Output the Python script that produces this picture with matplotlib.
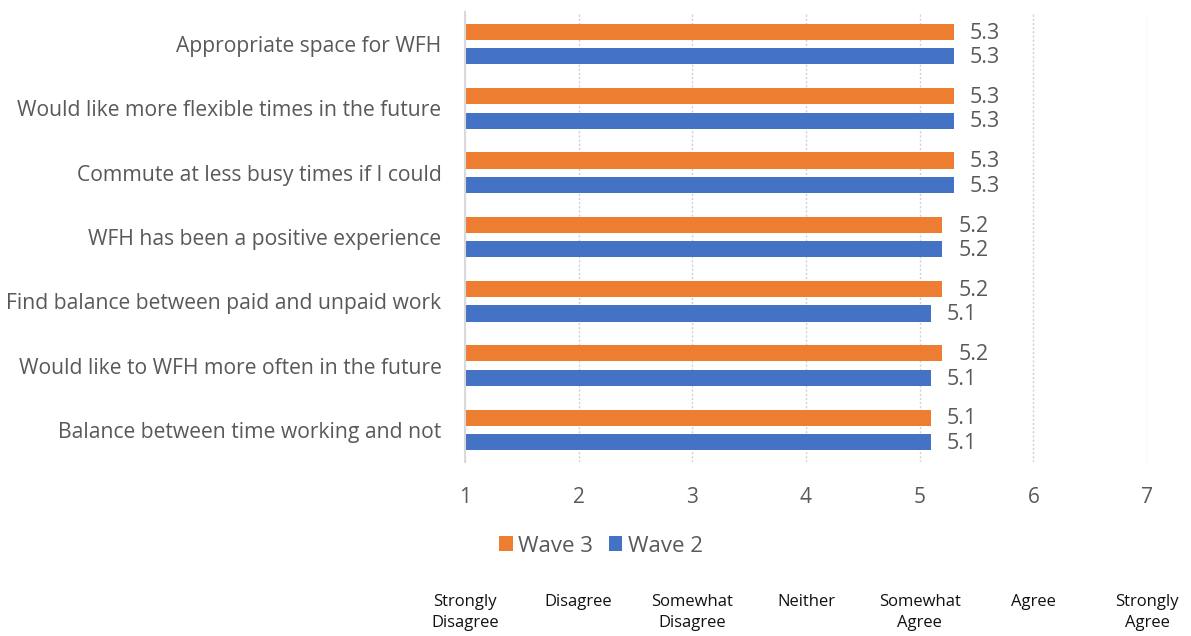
import numpy as np
import matplotlib.pyplot as plt

# data, top to bottom
statements = ["Appropriate space for WFH",
              "Would like more flexible times in the future",
              "Commute at less busy times if I could",
              "WFH has been a positive experience",
              "Find balance between paid and unpaid work",
              "Would like to WFH more often in the future",
              "Balance between time working and not"]
wave3 = [5.3, 5.3, 5.3, 5.2, 5.2, 5.2, 5.1]
wave2 = [5.3, 5.3, 5.3, 5.2, 5.1, 5.1, 5.1]
scale = ["Strongly\nDisagree", "Disagree", "Somewhat\nDisagree", "Neither",
         "Somewhat\nAgree", "Agree", "Strongly\nAgree"]

orange = "#ED7D31"
blue = "#4472C4"
grey = "#595959"

plt.rcParams['font.family'] = ['Open Sans', 'DejaVu Sans']

fig = plt.figure(figsize=(11.91, 6.36), dpi=100)
ax = fig.add_axes([465/1191, 1-462/636, (1147-465)/1191, (462-12)/636])

y = np.arange(len(statements))
h = 0.25
ax.barh(y - 0.19, np.array(wave3) - 1, left=1, height=h, color=orange, label="Wave 3")
ax.barh(y + 0.19, np.array(wave2) - 1, left=1, height=h, color=blue, label="Wave 2")

for i in range(len(y)):
    ax.text(wave3[i] + 0.14, y[i] - 0.17, f"{wave3[i]:.1f}", va="center", ha="left",
            fontsize=15.5, color=grey)
    ax.text(wave2[i] + 0.14, y[i] + 0.21, f"{wave2[i]:.1f}", va="center", ha="left",
            fontsize=15.5, color=grey)

ax.set_ylim(len(y) - 0.5, -0.5)
ax.set_xlim(1, 7)
ax.set_yticks(y)
ax.set_yticklabels(statements, fontsize=15.2, color=grey)
ax.set_xticks(range(1, 8))
ax.set_xticklabels([str(v) for v in range(1, 8)], fontsize=15, color=grey)
ax.tick_params(length=0, axis='y', pad=17)
ax.tick_params(length=0, axis='x', pad=18)

for s in ["top", "right", "bottom"]:
    ax.spines[s].set_visible(False)
ax.spines["left"].set_color("#d9d9d9")
ax.spines["left"].set_linewidth(1.5)
ax.xaxis.grid(True, color="#d0d0d0", linestyle=(0, (1.5, 1.5)), linewidth=1)
ax.set_axisbelow(True)

leg = fig.legend(loc="center", bbox_to_anchor=(601/1191, 1-546/636), ncol=2, frameon=False,
                 fontsize=16, handlelength=0.62, handleheight=0.62, handletextpad=0.25,
                 columnspacing=0.7, labelcolor=grey)

# agreement scale under the axis
for k, lab in enumerate(scale):
    xp = ax.transData.transform((k + 1, 0))[0] / fig.bbox.width
    fig.text(xp, 1-594/636, lab, ha="center", va="top",
             fontsize=12, color="#111111", linespacing=1.45)

fig.savefig("out.png", dpi=100)
